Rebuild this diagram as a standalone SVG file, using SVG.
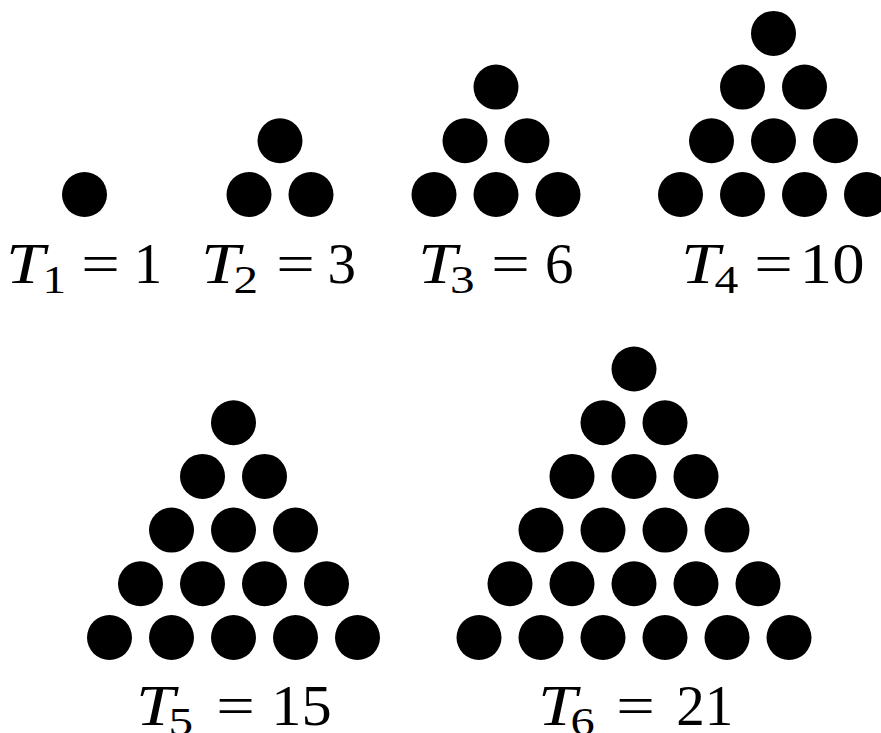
<svg xmlns="http://www.w3.org/2000/svg" width="881" height="733" viewBox="0 0 881 733">
<style>
.dot{fill:#000}
.m{font-family:"Liberation Serif","Times New Roman",serif;font-size:57px;fill:#000}
.v{font-style:italic}
.s{font-family:"Liberation Serif","Times New Roman",serif;font-size:41px;fill:#000}
</style>
<defs><circle id="d" r="22.5" class="dot"/></defs>
<rect width="881" height="733" fill="#fff"/>
<g id="t1">
<use href="#d" x="84.5" y="194.5"/>
<text class="m v" x="5.9" y="283" textLength="38.7" lengthAdjust="spacingAndGlyphs">T</text>
<text class="s" x="42.6" y="293" textLength="23.6" lengthAdjust="spacingAndGlyphs">1</text>
<text class="m" x="81.2" y="283" textLength="38.6" lengthAdjust="spacingAndGlyphs">=</text>
<text class="m" x="133.7" y="283">1</text>
</g>
<g id="t2">
<use href="#d" x="280" y="140.8"/>
<use href="#d" x="249" y="194.5"/><use href="#d" x="311" y="194.5"/>
<text class="m v" x="200.9" y="283" textLength="38.7" lengthAdjust="spacingAndGlyphs">T</text>
<text class="s" x="233.5" y="293" textLength="24.6" lengthAdjust="spacingAndGlyphs">2</text>
<text class="m" x="276.2" y="283" textLength="38.6" lengthAdjust="spacingAndGlyphs">=</text>
<text class="m" x="327.5" y="283">3</text>
</g>
<g id="t3">
<use href="#d" x="496" y="87.1"/>
<use href="#d" x="465" y="140.8"/><use href="#d" x="527" y="140.8"/>
<use href="#d" x="434" y="194.5"/><use href="#d" x="496" y="194.5"/><use href="#d" x="558" y="194.5"/>
<text class="m v" x="417.9" y="283" textLength="38.7" lengthAdjust="spacingAndGlyphs">T</text>
<text class="s" x="449.9" y="293" textLength="24.6" lengthAdjust="spacingAndGlyphs">3</text>
<text class="m" x="491.2" y="283" textLength="38.6" lengthAdjust="spacingAndGlyphs">=</text>
<text class="m" x="545" y="283">6</text>
</g>
<g id="t4">
<use href="#d" x="773.5" y="33.4"/>
<use href="#d" x="742.5" y="87.1"/><use href="#d" x="804.5" y="87.1"/>
<use href="#d" x="711.5" y="140.8"/><use href="#d" x="773.5" y="140.8"/><use href="#d" x="835.5" y="140.8"/>
<use href="#d" x="680.5" y="194.5"/><use href="#d" x="742.5" y="194.5"/><use href="#d" x="804.5" y="194.5"/><use href="#d" x="866.5" y="194.5"/>
<text class="m v" x="680.9" y="283" textLength="38.7" lengthAdjust="spacingAndGlyphs">T</text>
<text class="s" x="714.4" y="293" textLength="23.8" lengthAdjust="spacingAndGlyphs">4</text>
<text class="m" x="754.2" y="283" textLength="38.6" lengthAdjust="spacingAndGlyphs">=</text>
<text class="m" x="799.8" y="283" textLength="64.7" lengthAdjust="spacingAndGlyphs">10</text>
</g>
<g id="t5">
<use href="#d" x="233.5" y="422.7"/>
<use href="#d" x="202.5" y="476.4"/><use href="#d" x="264.5" y="476.4"/>
<use href="#d" x="171.5" y="530.1"/><use href="#d" x="233.5" y="530.1"/><use href="#d" x="295.5" y="530.1"/>
<use href="#d" x="140.5" y="583.8"/><use href="#d" x="202.5" y="583.8"/><use href="#d" x="264.5" y="583.8"/><use href="#d" x="326.5" y="583.8"/>
<use href="#d" x="109.5" y="637.5"/><use href="#d" x="171.5" y="637.5"/><use href="#d" x="233.5" y="637.5"/><use href="#d" x="295.5" y="637.5"/><use href="#d" x="357.5" y="637.5"/>
<text class="m v" x="135.9" y="725" textLength="38.7" lengthAdjust="spacingAndGlyphs">T</text>
<text class="s" x="168.4" y="735" textLength="24.6" lengthAdjust="spacingAndGlyphs">5</text>
<text class="m" x="216.2" y="725" textLength="38.6" lengthAdjust="spacingAndGlyphs">=</text>
<text class="m" x="271.3" y="725" textLength="60.4" lengthAdjust="spacingAndGlyphs">15</text>
</g>
<g id="t6">
<use href="#d" x="634" y="369"/>
<use href="#d" x="603" y="422.7"/><use href="#d" x="665" y="422.7"/>
<use href="#d" x="572" y="476.4"/><use href="#d" x="634" y="476.4"/><use href="#d" x="696" y="476.4"/>
<use href="#d" x="541" y="530.1"/><use href="#d" x="603" y="530.1"/><use href="#d" x="665" y="530.1"/><use href="#d" x="727" y="530.1"/>
<use href="#d" x="510" y="583.8"/><use href="#d" x="572" y="583.8"/><use href="#d" x="634" y="583.8"/><use href="#d" x="696" y="583.8"/><use href="#d" x="758" y="583.8"/>
<use href="#d" x="479" y="637.5"/><use href="#d" x="541" y="637.5"/><use href="#d" x="603" y="637.5"/><use href="#d" x="665" y="637.5"/><use href="#d" x="727" y="637.5"/><use href="#d" x="789" y="637.5"/>
<text class="m v" x="537.9" y="725" textLength="38.7" lengthAdjust="spacingAndGlyphs">T</text>
<text class="s" x="570.4" y="735" textLength="24.2" lengthAdjust="spacingAndGlyphs">6</text>
<text class="m" x="616.2" y="725" textLength="38.6" lengthAdjust="spacingAndGlyphs">=</text>
<text class="m" x="676.3" y="725">21</text>
</g>
</svg>
